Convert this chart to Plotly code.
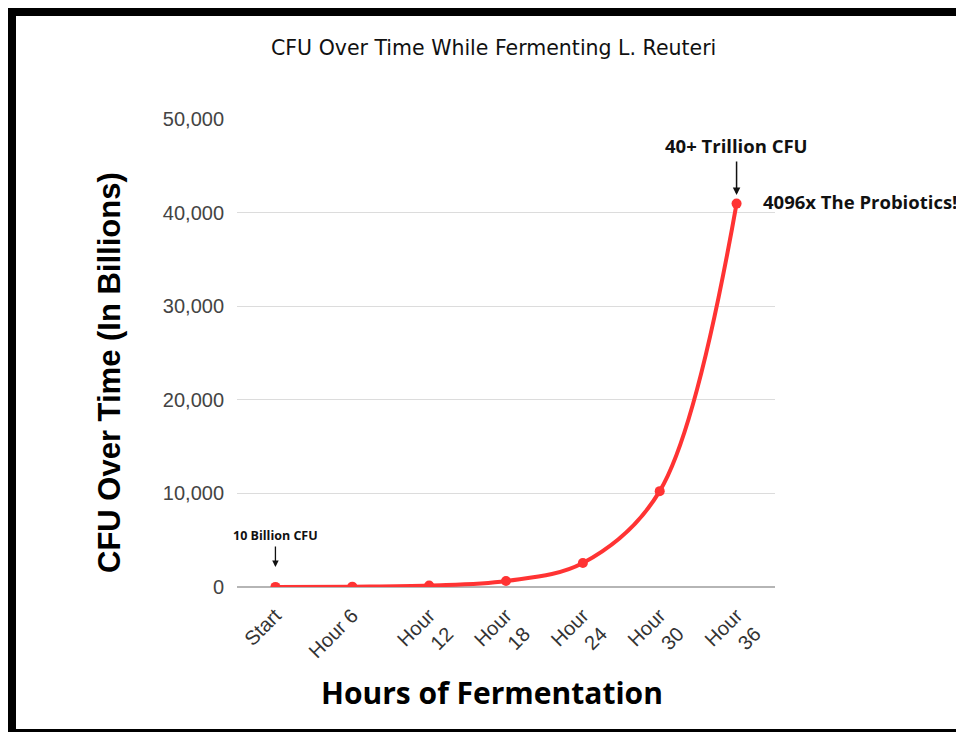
import plotly.graph_objects as go

categories = ["Start", "Hour 6", "Hour<br>12", "Hour<br>18", "Hour<br>24", "Hour<br>30", "Hour<br>36"]
cfu_billions = [10, 40, 160, 640, 2560, 10240, 40960]
y_ticks = [0, 10000, 20000, 30000, 40000, 50000]
y_tick_labels = ["0", "10,000", "20,000", "30,000", "40,000", "50,000"]

OFF = 8  # page body margin
W, H = 964 - OFF, 732 - OFF
# plot area in page pixels
PL, PR, PT, PB = 237, 775, 119, 587
L, T = PL - OFF, PT - OFF
R, B = W - (PR - OFF), H - (PB - OFF)
pw, ph = PR - PL, PB - PT

def px_x(p):  # page pixel -> paper
    return (p - PL) / pw

def px_y(p):
    return (PB - p) / ph

def val_y(p):  # page pixel -> data value
    return (PB - p) / ph * 50000

fig = go.Figure()
fig.add_trace(go.Scatter(
    x=categories, y=cfu_billions, mode="lines+markers",
    line=dict(color="#ff3333", width=4, shape="spline", smoothing=1.0),
    marker=dict(color="#ff3333", size=10),
    showlegend=False, hoverinfo="x+y",
))

fig.update_layout(
    width=W, height=H,
    margin=dict(l=L, r=R, t=T, b=B, autoexpand=False),
    paper_bgcolor="white", plot_bgcolor="white",
    font=dict(family="Liberation Sans, Arial, sans-serif"),
    xaxis=dict(
        type="category", range=[-0.5, 6.5], tickangle=-45,
        tickfont=dict(size=20, color="#333"), showgrid=False,
        showline=False, zeroline=False, ticks="", ticklabelstandoff=12,
    ),
    yaxis=dict(
        range=[0, 50000], tickvals=y_ticks, ticktext=y_tick_labels,
        tickfont=dict(size=20, color="#444"), gridcolor="#dcdcdc", gridwidth=1,
        zeroline=True, zerolinecolor="#b5b5b5", zerolinewidth=2,
        showline=False, ticks="", ticklabelstandoff=12,
    ),
)

annotations = [
    dict(text="CFU Over Time While Fermenting L. Reuteri", x=px_x(493), y=px_y(48),
         xref="paper", yref="paper", showarrow=False,
         font=dict(family="DejaVu Sans", size=20.5, color="#111"), xanchor="center", yanchor="middle"),
    dict(text="<b>CFU Over Time (In Billions)</b>", x=px_x(109), y=px_y(373),
         xref="paper", yref="paper", showarrow=False, textangle=-90,
         font=dict(family="Liberation Sans, Arial", size=31, color="#000"), xanchor="center", yanchor="middle"),
    dict(text="<b>Hours of Fermentation</b>", x=px_x(492), y=px_y(692),
         xref="paper", yref="paper", showarrow=False,
         font=dict(family="Open Sans", size=30, color="#000"), xanchor="center", yanchor="middle"),
    dict(text="<b>10 Billion CFU</b>", x="Start", y=val_y(535),
         xref="x", yref="y", showarrow=False,
         font=dict(family="Open Sans", size=12.5, color="#111"), xanchor="center", yanchor="middle"),
    dict(text="", x="Start", y=val_y(567), xref="x", yref="y",
         showarrow=True, ax=0, ay=-22, arrowhead=2, arrowsize=1, arrowwidth=1.3, arrowcolor="#111"),
    dict(text="<b>40+ Trillion CFU</b>", x="Hour<br>36", y=val_y(145),
         xref="x", yref="y", showarrow=False,
         font=dict(family="Open Sans", size=18.5, color="#111"), xanchor="center", yanchor="middle"),
    dict(text="", x="Hour<br>36", y=val_y(195), xref="x", yref="y",
         showarrow=True, ax=0, ay=-35, arrowhead=2, arrowsize=1, arrowwidth=1.5, arrowcolor="#111"),
    dict(text="<b>4096x The Probiotics!</b>", x=px_x(761), y=px_y(201),
         xref="paper", yref="paper", showarrow=False,
         font=dict(family="Open Sans", size=18.5, color="#111"), xanchor="left", yanchor="middle"),
]
fig.update_layout(annotations=annotations)

# black frame around the image
fig.add_shape(type="rect", xref="paper", yref="paper",
              x0=px_x(12), x1=px_x(980), y0=px_y(733), y1=px_y(12),
              line=dict(color="#000", width=8), fillcolor="rgba(0,0,0,0)", layer="above")

fig.write_html("out.html")
